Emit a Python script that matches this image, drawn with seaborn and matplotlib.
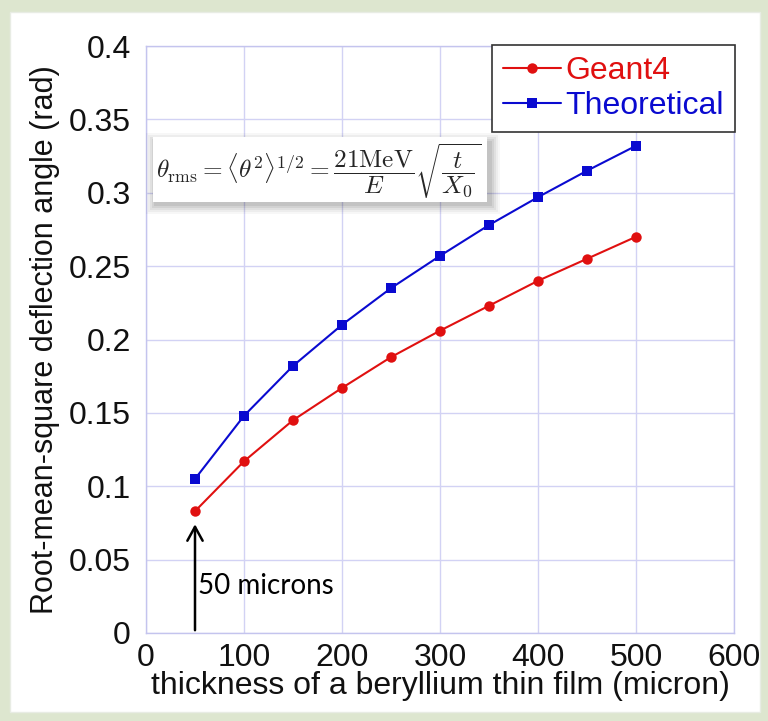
import matplotlib
matplotlib.use("Agg")
import matplotlib.pyplot as plt
import matplotlib.patches as mpatches
import seaborn as sns
import pandas as pd

# Film thickness (micron) and RMS deflection angle (rad)
thickness = [50, 100, 150, 200, 250, 300, 350, 400, 450, 500]
geant4 = [0.083, 0.117, 0.145, 0.167, 0.188, 0.206, 0.223, 0.240, 0.255, 0.270]
theoretical = [0.105, 0.148, 0.182, 0.210, 0.235, 0.257, 0.278, 0.297, 0.315, 0.332]
series_names = ["Geant4", "Theoretical"]
x_ticks = [0, 100, 200, 300, 400, 500, 600]
y_ticks = [0, 0.05, 0.1, 0.15, 0.2, 0.25, 0.3, 0.35, 0.4]
y_tick_labels = ["0", "0.05", "0.1", "0.15", "0.2", "0.25", "0.3", "0.35", "0.4"]

df = pd.DataFrame({
    "thickness": thickness * 2,
    "angle": geant4 + theoretical,
    "series": [series_names[0]] * len(thickness) + [series_names[1]] * len(thickness),
})

sns.set_style("whitegrid")
plt.rcParams["font.family"] = ["Liberation Sans", "DejaVu Sans"]
plt.rcParams["mathtext.fontset"] = "cm"

fig = plt.figure(figsize=(7.68, 7.21), dpi=100)
fig.patch.set_facecolor("#dde6cf")
# white slide panel
fig.patches.append(mpatches.Rectangle((10 / 768, 1 - 712 / 721), 750 / 768, 700 / 721,
                                      transform=fig.transFigure, facecolor="white",
                                      edgecolor="#e8ece4", lw=1, zorder=0))

ax = fig.add_axes([146 / 768, 1 - 633 / 721, 588 / 768, 587 / 721])
ax.set_zorder(1)
ax.set_facecolor("white")

palette = {"Geant4": "#e01010", "Theoretical": "#0a0ad0"}
markers = {"Geant4": "o", "Theoretical": "s"}
sns.lineplot(data=df, x="thickness", y="angle", hue="series", style="series",
             palette=palette, markers=markers, dashes=False, markersize=7.5,
             markeredgewidth=0, linewidth=1.5, ax=ax)

ax.set_xlim(0, 600)
ax.set_ylim(0, 0.4)
ax.set_xticks(x_ticks)
ax.set_xticklabels([str(v) for v in x_ticks])
ax.set_yticks(y_ticks)
ax.set_yticklabels(y_tick_labels)
ax.tick_params(axis="both", length=0, labelsize=23, colors="#111111")
ax.tick_params(axis="x", pad=7)
ax.tick_params(axis="y", pad=11)
ax.grid(True, color="#d2d2f4", linewidth=1)
for s in ax.spines.values():
    s.set_color("#c4c4ee")
    s.set_linewidth(1)

ax.set_xlabel("thickness of a beryllium thin film (micron)", fontsize=23, color="#111111", labelpad=-1)
ax.set_ylabel("Root-mean-square deflection angle (rad)", fontsize=22, color="#111111", labelpad=6)

leg = ax.legend(loc="upper right", fontsize=23, frameon=True, fancybox=False,
                borderpad=0.35, handlelength=1.8, handletextpad=0.15, labelspacing=0.15,
                borderaxespad=0, bbox_to_anchor=(1.002, 1.002))
leg.get_frame().set_edgecolor("#333333")
leg.get_frame().set_linewidth(1.2)
leg.get_frame().set_alpha(1)
for txt in leg.get_texts():
    txt.set_color(palette[txt.get_text()])

# arrow pointing at the 50 micron point
ax.annotate("", xy=(thickness[0], geant4[0] - 0.007), xytext=(thickness[0], 0),
            arrowprops=dict(arrowstyle="->,head_length=1.0,head_width=0.55", color="black", lw=1.8))
ax.text(thickness[0] + 3, 0.032, "50 microns", fontsize=20, family=["Lato", "DejaVu Sans"],
        color="black", va="center", ha="left")

# formula box with soft drop shadow
bx, by, bw, bh = 153, 137, 334, 65
for i, a in enumerate([0.03, 0.04, 0.05, 0.06, 0.07]):
    off = 10 - 2 * i
    fig.patches.append(mpatches.Rectangle(((bx - off + 3) / 768, 1 - (by + bh + off + 2) / 721),
                                          (bw + 2 * off) / 768, (bh + 2 * off - 4) / 721,
                                          transform=fig.transFigure, facecolor="black",
                                          edgecolor="none", alpha=a, zorder=5))
fig.patches.append(mpatches.Rectangle((bx / 768, 1 - (by + bh) / 721), bw / 768, bh / 721,
                                      transform=fig.transFigure, facecolor="white",
                                      edgecolor="none", zorder=6))
fig.text((bx + 3) / 768, 1 - (by + bh / 2 + 2) / 721,
         r"$\theta_{\rm rms} = \langle\theta^2\rangle^{1/2} = \dfrac{21{\rm MeV}}{E}\sqrt{\dfrac{t}{X_0}}$",
         fontsize=18.2, ha="left", va="center", zorder=7)

fig.savefig("out.png", dpi=100)
